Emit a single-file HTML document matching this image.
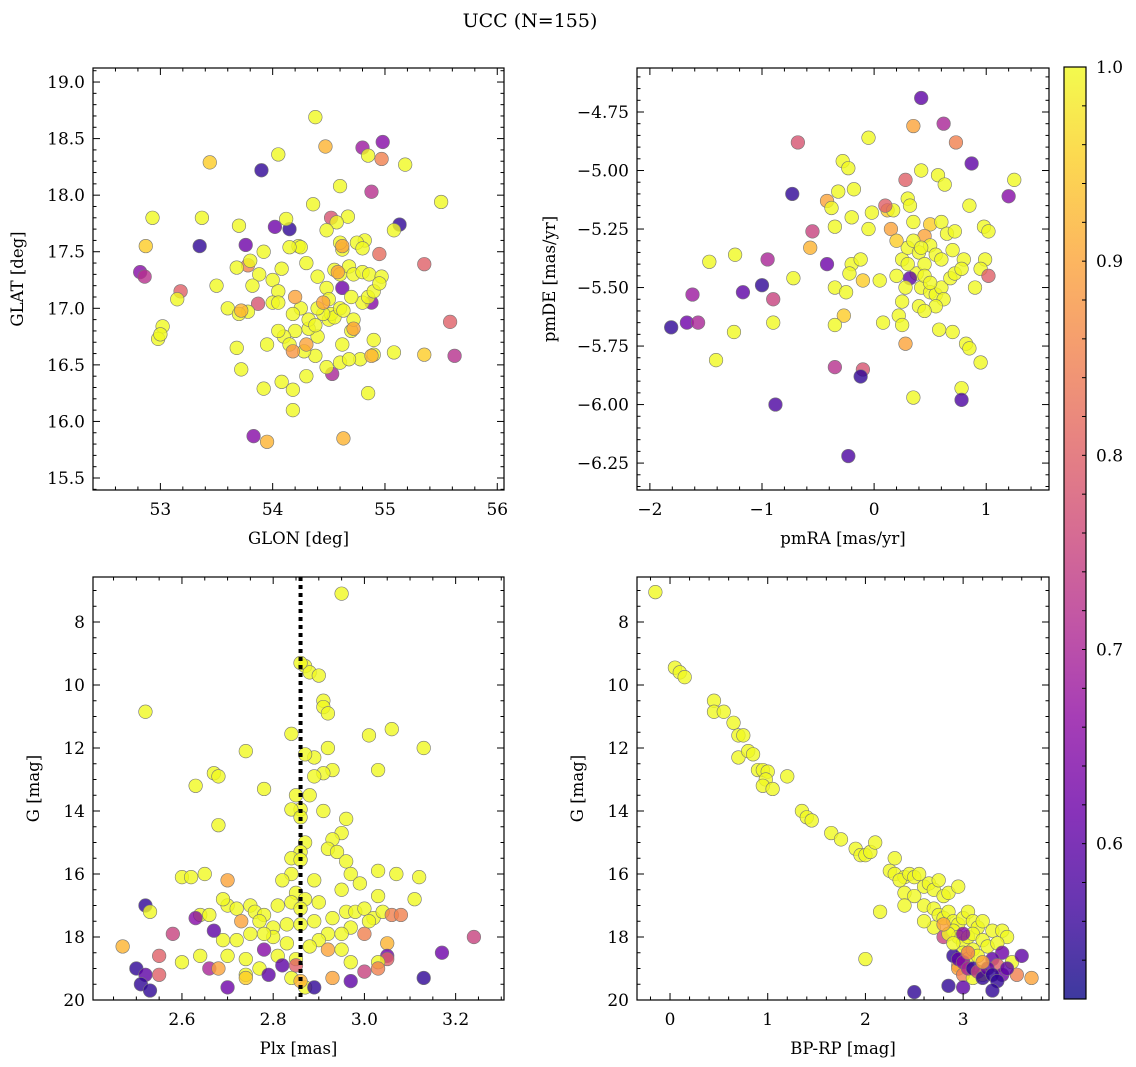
<!DOCTYPE html>
<html><head><meta charset="utf-8">
<style>
html,body{margin:0;padding:0;background:#fff;}
svg{display:block;font-family:"DejaVu Serif","Liberation Serif",serif;}
</style></head>
<body>
<svg id="fig" width="1136" height="1067" viewBox="0 0 1136 1067" xmlns="http://www.w3.org/2000/svg">
<text x="530" y="27" font-size="19" text-anchor="middle">UCC (N=155)</text>
</svg>
<script>
// ---- data (x, y, membership probability) ----
const p1Points=[[53.9,18.22,0.55],[54.98,18.47,0.65],[55.13,17.74,0.55],[54.15,17.70,0.55],[53.35,17.55,0.55],[53.76,17.56,0.62],[52.82,17.32,0.65],[52.86,17.28,0.72],[54.02,17.72,0.62],[53.83,15.87,0.65],[54.88,17.05,0.65],[54.62,17.18,0.62],[54.8,18.42,0.68],[54.88,18.03,0.72],[54.53,16.42,0.7],[55.62,16.58,0.72],[55.58,16.88,0.8],[55.35,17.39,0.8],[54.95,17.48,0.82],[54.52,17.8,0.78],[53.18,17.15,0.8],[53.87,17.04,0.78],[53.78,17.38,0.85],[54.97,18.32,0.85],[53.95,15.82,0.92],[54.63,15.85,0.92],[54.47,18.43,0.92],[53.44,18.29,0.95],[52.87,17.55,0.95],
[54.38,18.69,1],[54.05,18.36,1],[54.85,18.35,1],[55.18,18.27,1],[54.6,18.08,1],[55.5,17.94,1],[53.37,17.8,1],[52.93,17.8,1],[54.12,17.79,1],[54.36,17.92,1],[54.67,17.81,1],[54.57,17.76,1],[55.08,17.69,1],[53.7,17.73,1],[54.82,17.6,1],[54.48,17.69,1],[54.23,17.55,1],[54.25,17.54,1],[53.5,17.2,1],[53.6,17.0,1],[53.68,17.36,1],[53.8,17.42,1],[53.88,17.3,1],[53.92,17.5,1],[54.0,17.25,1],[54.05,17.15,1],[54.08,17.35,1],[54.15,17.54,1],[54.3,17.4,1],[54.4,17.28,1],[54.48,17.18,1],[54.55,17.34,1],[54.6,17.3,1],[54.62,17.52,1],[54.68,17.37,1],[54.72,17.3,1],[54.8,17.32,1],[54.86,17.3,1],[54.97,17.28,1],[54.75,17.58,1],[54.8,17.53,1],[54.6,17.58,1],[53.15,17.08,1],[53.02,16.84,1],[52.98,16.73,1],[53.0,16.77,1],[53.68,16.65,1],[53.72,16.46,1],[53.92,16.29,1],[54.08,16.35,1],[54.18,16.28,1],[54.18,16.1,1],[54.3,16.4,1],[54.85,16.25,1],[54.6,16.52,1],[54.48,16.48,1],[54.38,16.58,1],[55.08,16.61,1],[55.35,16.59,0.95],[54.9,16.59,1],[54.9,16.72,1],[54.78,16.55,1],[54.68,16.55,1],[54.7,16.8,1],[54.62,16.68,1],[54.5,16.9,1],[54.52,16.95,1],[54.55,16.92,1],[54.45,16.95,1],[54.4,16.75,1],[54.32,16.82,1],[54.32,16.9,1],[54.25,17.0,1],[54.18,16.95,1],[54.2,16.8,1],[54.1,16.75,1],[54.05,16.8,1],[53.95,16.68,1],[54.0,17.05,1],[54.05,17.05,1],[53.78,16.97,1],[53.7,16.95,1],[53.82,17.2,1],[54.4,17.0,1],[54.6,17.0,1],[54.72,16.9,1],[54.8,17.05,1],[54.85,17.1,1],[54.9,17.15,1],[54.95,17.22,1],[54.5,17.08,1],[54.38,16.85,1],[54.28,16.62,1],[54.15,16.68,1],[54.63,16.98,1],[54.7,17.1,1],
[54.45,17.05,0.9],[54.18,16.62,0.88],[54.3,16.68,0.9],[53.72,16.98,0.92],[54.72,16.82,0.9],[54.88,16.58,0.92],[54.58,17.32,0.9],[54.62,17.55,0.9],[54.2,17.1,0.9]];
const p2Points=[[0.42,-4.69,0.6],[0.62,-4.80,0.7],[0.35,-4.81,0.9],[-0.68,-4.88,0.78],[0.73,-4.88,0.85],[-0.05,-4.86,1],[-0.28,-4.96,1],[-0.23,-4.99,1],[0.42,-5.0,1],[0.87,-4.97,0.6],[0.28,-5.04,0.8],[0.57,-5.02,1],[0.63,-5.06,1],[1.25,-5.04,1],[-0.73,-5.10,0.55],[-0.32,-5.09,1],[-0.18,-5.08,1],[0.3,-5.12,1],[1.2,-5.11,0.65],[-0.42,-5.13,0.9],[-0.38,-5.16,1],[-0.2,-5.2,1],[0.12,-5.17,0.95],[0.17,-5.17,1],[-0.02,-5.18,1],[0.32,-5.15,1],[0.85,-5.15,1],[0.1,-5.15,0.8],[-0.55,-5.26,0.75],[-0.35,-5.24,1],[-0.05,-5.25,1],[0.35,-5.22,1],[0.5,-5.23,0.95],[0.6,-5.22,1],[0.65,-5.27,1],[0.45,-5.28,0.9],[0.72,-5.26,1],[0.98,-5.24,1],[1.02,-5.26,1],[-0.57,-5.33,0.92],[-0.95,-5.38,0.7],[-1.24,-5.36,1],[-1.47,-5.39,1],[-0.42,-5.40,0.62],[-0.2,-5.4,1],[-0.12,-5.38,1],[0.25,-5.38,1],[0.3,-5.33,1],[0.4,-5.35,1],[0.5,-5.32,1],[0.55,-5.36,1],[0.6,-5.38,1],[0.7,-5.34,1],[0.8,-5.38,1],[0.99,-5.38,1],[0.95,-5.42,1],[0.38,-5.44,1],[0.45,-5.4,1],[0.32,-5.46,0.6],[0.2,-5.45,1],[0.28,-5.5,1],[0.05,-5.47,1],[-0.1,-5.47,0.95],[-0.22,-5.44,1],[-0.72,-5.46,1],[-1.0,-5.49,0.55],[-1.17,-5.52,0.6],[-1.62,-5.53,0.68],[-0.35,-5.5,1],[-0.25,-5.52,1],[-0.9,-5.55,0.75],[0.42,-5.5,1],[0.5,-5.52,1],[0.55,-5.53,1],[0.6,-5.5,1],[0.62,-5.55,1],[0.68,-5.46,1],[0.72,-5.44,1],[0.78,-5.42,1],[0.9,-5.5,1],[1.02,-5.45,0.8],[0.25,-5.56,1],[0.4,-5.58,1],[0.55,-5.58,1],[0.22,-5.62,1],[0.45,-5.6,1],[-0.27,-5.62,0.95],[0.08,-5.65,1],[0.25,-5.66,1],[0.58,-5.68,1],[0.7,-5.69,1],[-0.35,-5.66,1],[-0.9,-5.65,1],[-1.25,-5.69,1],[-1.81,-5.67,0.55],[-1.67,-5.65,0.62],[-1.57,-5.65,0.7],[0.28,-5.74,0.9],[0.82,-5.74,1],[0.85,-5.76,1],[-1.41,-5.81,1],[-0.35,-5.84,0.72],[-0.1,-5.85,0.78],[-0.12,-5.88,0.55],[0.95,-5.82,1],[0.78,-5.93,1],[0.78,-5.98,0.58],[0.35,-5.97,1],[-0.88,-6.0,0.58],[-0.23,-6.22,0.58],[0.3,-5.4,1],[0.45,-5.45,1],[0.5,-5.48,1],[0.35,-5.3,1],[0.42,-5.33,1],[0.15,-5.25,0.9],[0.2,-5.3,0.95]];
const p3Points=[[2.95,7.1,1],[2.52,10.85,1],[2.87,9.4,1],[2.88,9.6,1],[2.9,9.7,1],[2.86,9.3,1],[2.91,10.5,1],[2.91,10.7,1],[2.92,10.9,1],[3.06,11.4,1],[2.84,11.55,1],[2.74,12.1,1],[3.01,11.6,1],[2.92,12.0,1],[3.13,12.0,1],[2.89,12.3,1],[2.87,12.2,1],[2.93,12.7,1],[2.91,12.8,1],[2.89,12.9,1],[3.03,12.7,1],[2.67,12.8,1],[2.68,12.9,1],[2.63,13.2,1],[2.78,13.3,1],[2.85,13.5,1],[2.88,13.5,1],[2.86,13.95,1],[2.84,13.95,1],[2.91,14.0,1],[2.86,14.2,1],[2.68,14.45,1],[2.96,14.25,1],[2.95,14.7,1],[2.93,14.9,1],[2.92,15.2,1],[2.94,15.3,1],[2.87,15.0,1],[2.86,15.3,1],[2.84,15.5,1],[2.86,15.55,1],[2.96,15.6,1],[2.97,16.0,1],[2.6,16.1,1],[2.62,16.1,1],[2.65,16.0,1],[2.84,16.0,1],[2.89,16.2,1],[2.82,16.2,1],[2.95,16.5,1],[3.03,15.9,1],[3.07,16.0,1],[3.12,16.1,1],[2.99,16.3,1],[3.03,16.7,1],[2.85,16.6,1],[2.87,16.8,1],[2.84,16.9,1],[2.86,17.1,1],[2.81,17.0,1],[2.52,17.0,0.55],[2.53,17.2,1],[2.64,17.3,1],[2.66,17.3,1],[2.7,17.0,1],[2.72,17.1,1],[2.75,17.0,1],[2.69,16.8,1],[2.7,16.2,0.9],[2.76,17.2,1],[2.78,17.3,1],[2.77,17.5,1],[2.73,17.5,0.9],[2.8,17.7,1],[2.83,17.6,1],[2.86,17.6,1],[2.89,17.5,1],[2.9,16.9,1],[2.93,17.4,1],[2.96,17.2,1],[2.98,17.2,1],[3.0,17.1,1],[3.02,17.4,1],[3.04,17.2,1],[3.06,17.3,0.85],[3.08,17.3,0.85],[3.11,16.8,1],[3.0,17.9,0.85],[3.01,17.5,1],[2.97,17.7,1],[2.95,17.9,1],[2.92,17.9,1],[2.9,18.1,1],[2.88,18.3,1],[2.83,18.2,1],[2.8,18.0,1],[2.78,17.9,1],[2.75,17.9,1],[2.72,18.1,1],[2.69,18.1,1],[2.67,17.8,0.6],[2.58,17.9,0.75],[2.55,18.6,0.8],[2.47,18.3,0.92],[2.64,18.6,1],[2.6,18.8,1],[2.7,18.6,1],[2.74,18.7,1],[2.78,18.4,0.65],[2.81,18.6,1],[2.85,18.7,1],[2.92,18.4,0.9],[2.95,18.4,1],[2.97,18.8,1],[3.05,18.2,0.92],[3.05,18.6,0.62],[3.05,18.7,0.8],[3.03,18.8,1],[3.24,18.0,0.75],[3.17,18.5,0.62],[2.63,17.4,0.65],[2.5,19.0,0.55],[2.52,19.2,0.6],[2.55,19.2,0.8],[2.51,19.5,0.55],[2.53,19.7,0.55],[2.66,19.0,0.7],[2.68,19.0,0.9],[2.7,19.6,0.62],[2.74,19.2,1],[2.74,19.3,0.95],[2.77,19.0,1],[2.79,19.2,0.6],[2.82,18.9,0.6],[2.84,19.3,1],[2.87,19.6,1],[2.89,19.6,0.55],[2.93,19.3,0.9],[2.97,19.4,0.6],[3.0,19.1,0.75],[3.03,19.0,0.85],[3.13,19.3,0.55],[2.85,18.9,0.8],[2.86,19.4,0.92]];
const p4Points=[[-0.15,7.05,1],[0.05,9.45,1],[0.1,9.6,1],[0.15,9.75,1],[0.45,10.5,1],[0.45,10.85,1],[0.55,10.85,1],[0.65,11.2,1],[0.7,11.6,1],[0.75,11.6,1],[0.7,12.3,1],[0.8,12.1,1],[0.85,12.2,1],[0.9,12.7,1],[0.95,12.7,1],[1.0,12.75,1],[0.98,13.0,1],[0.95,13.2,1],[1.05,13.3,1],[1.2,12.9,1],[1.35,14.0,1],[1.4,14.2,1],[1.45,14.3,1],[1.65,14.7,1],[1.75,14.9,1],[1.9,15.2,1],[1.95,15.4,1],[2.0,15.4,1],[2.05,15.3,1],[2.1,15.0,1],[2.3,15.5,1],[2.25,15.9,1],[2.3,16.0,1],[2.4,16.1,1],[2.35,16.2,1],[2.45,16.0,1],[2.5,16.1,1],[2.55,16.0,1],[2.6,16.4,1],[2.65,16.3,1],[2.7,16.5,1],[2.75,16.2,1],[2.8,16.7,1],[2.85,16.6,1],[2.95,16.4,1],[2.4,16.6,1],[2.5,16.7,1],[2.15,17.2,1],[2.0,18.7,1],[2.4,17.0,1],[2.6,17.0,1],[2.7,17.1,1],[2.75,17.3,1],[2.8,17.4,1],[2.85,17.2,1],[2.9,17.5,1],[2.95,17.6,1],[3.0,17.4,1],[3.05,17.2,1],[3.1,17.5,1],[3.15,17.7,1],[3.2,17.5,1],[3.3,17.8,1],[3.4,17.8,1],[3.45,18.0,1],[2.8,18.0,0.75],[2.9,17.8,1],[2.95,18.0,1],[3.0,18.2,1],[3.05,18.0,1],[3.1,17.9,1],[3.2,18.1,1],[3.25,18.3,1],[3.35,18.2,1],[3.4,18.5,0.62],[3.5,18.8,1],[3.0,18.5,1],[3.05,18.7,1],[2.95,18.9,0.9],[2.95,19.0,0.9],[3.0,19.2,0.85],[3.1,19.3,1],[3.2,19.2,1],[3.3,18.7,0.6],[3.35,18.9,0.8],[3.4,19.2,0.62],[3.55,19.2,0.85],[3.7,19.3,0.9],[2.9,18.6,0.55],[2.95,18.7,0.6],[3.0,18.8,0.65],[3.05,19.0,0.7],[3.1,19.0,0.55],[3.15,19.1,0.75],[3.2,19.3,0.55],[3.25,19.0,0.6],[3.3,19.2,0.55],[3.35,19.4,0.55],[2.5,19.75,0.55],[2.85,19.55,0.55],[3.0,19.6,0.6],[3.3,19.7,0.55],[3.1,18.4,1],[3.15,18.6,1],[2.85,17.9,1],[2.9,18.2,1],[3.05,18.5,0.85],[3.2,18.8,0.9],[3.45,19.0,0.6],[3.6,18.6,0.6],[2.7,17.7,1],[2.6,17.5,1],[2.8,17.6,0.9],[3.0,17.9,0.65]];
const plxMean=[2.86];
const p1XTicks=[53,54,55,56], p1YTicks=[15.5,16.0,16.5,17.0,17.5,18.0,18.5,19.0];
const p2XTicks=[-2,-1,0,1], p2YTicks=[-6.25,-6.00,-5.75,-5.50,-5.25,-5.00,-4.75];
const p3XTicks=[2.6,2.8,3.0,3.2], magTicks=[8,10,12,14,16,18,20];
const p4XTicks=[0,1,2,3];
const cbTicks=[0.6,0.7,0.8,0.9,1.0];

const NS="http://www.w3.org/2000/svg";
const svg=document.getElementById('fig');
function el(tag,attrs,parent){const e=document.createElementNS(NS,tag);for(const k in attrs)e.setAttribute(k,attrs[k]);(parent||svg).appendChild(e);return e;}
const VMIN=0.52,VMAX=1.0;
const stops=["#0d0887","#41049d","#6a00a8","#8f0da4","#b12a90","#cc4778","#e16462","#f2844b","#fca636","#fcce25","#f0f921"];
function hex(h){return [1,3,5].map(i=>parseInt(h.substr(i,2),16));}
function plasma(t){t=Math.max(0,Math.min(1,t));const f=t*10,i=Math.min(9,Math.floor(f)),r=f-i;const a=hex(stops[i]),b=hex(stops[i+1]);return 'rgb('+a.map((v,k)=>Math.round(v+(b[k]-v)*r)).join(',')+')';}
function fmt(v,d){return (v<0?'\u2212':'')+Math.abs(v).toFixed(d);}

function panel(o){
  const g=el('g',{});
  
  
  const sx=v=>o.x0+(v-o.xmin)/(o.xmax-o.xmin)*(o.x1-o.x0);
  const sy=v=>o.inv? o.y0+(v-o.ymin)/(o.ymax-o.ymin)*(o.y1-o.y0) : o.y1-(v-o.ymin)/(o.ymax-o.ymin)*(o.y1-o.y0);
  const clipId='c'+o.name;
  const cp=el('clipPath',{id:clipId},g);el('rect',{x:o.x0,y:o.y0,width:o.x1-o.x0,height:o.y1-o.y0},cp);
  const pts=el('g',{'clip-path':'url(#'+clipId+')'},g);
  o.points.forEach(p=>{
    const c=el('circle',{cx:sx(p[0]),cy:sy(p[1]),r:6.8,fill:plasma((p[2]-VMIN)/(VMAX-VMIN)),'fill-opacity':0.8,stroke:'#777','stroke-width':0.6},pts);
    
    
  });
  if(o.vline){o.vline.forEach(v=>{const l=el('line',{x1:sx(v),x2:sx(v),y1:o.y0,y2:o.y1,stroke:'#000','stroke-width':4,'stroke-dasharray':'4 4'},g);
    });}
  const fr=el('rect',{x:o.x0,y:o.y0,width:o.x1-o.x0,height:o.y1-o.y0,fill:'none',stroke:'#000','stroke-width':1.2},g);
  
  const xs=o.xt, ys=o.yt;
  const xst=xs[1]-xs[0], yst=ys[1]-ys[0];
  for(let i=-o.xm;i<=(xs.length)*o.xm;i++){
    const v=xs[0]+i*xst/o.xm;const X=sx(v); if(X<o.x0-0.1||X>o.x1+0.1)continue;
    const L=(i%o.xm===0)?7:3.5;
    el('line',{x1:X,x2:X,y1:o.y1,y2:o.y1-L,stroke:'#000','stroke-width':1},g);
    el('line',{x1:X,x2:X,y1:o.y0,y2:o.y0+L,stroke:'#000','stroke-width':1},g);
  }
  for(let i=-o.ym;i<=(ys.length)*o.ym;i++){
    const v=ys[0]+i*yst/o.ym;const Y=sy(v); if(Y<o.y0-0.1||Y>o.y1+0.1)continue;
    const L=(i%o.ym===0)?7:3.5;
    el('line',{x1:o.x0,x2:o.x0+L,y1:Y,y2:Y,stroke:'#000','stroke-width':1},g);
    el('line',{x1:o.x1,x2:o.x1-L,y1:Y,y2:Y,stroke:'#000','stroke-width':1},g);
  }
  xs.forEach(v=>{const t=el('text',{x:sx(v),y:o.y1+25,'font-size':17,'text-anchor':'middle'},g);t.textContent=fmt(v,o.xd);
    });
  ys.forEach(v=>{const t=el('text',{x:o.x0-8,y:sy(v)+6,'font-size':17,'text-anchor':'end'},g);t.textContent=fmt(v,o.yd);
    });
  const xl=el('text',{x:(o.x0+o.x1)/2,y:o.y1+54,'font-size':16.5,'text-anchor':'middle'},g);xl.textContent=o.xlabel;
  
  const yx=o.x0-o.ylo, yy=(o.y0+o.y1)/2;
  const yl=el('text',{x:yx,y:yy,'font-size':16.5,'text-anchor':'middle',transform:'rotate(-90 '+yx+' '+yy+')'},g);yl.textContent=o.ylabel;
  
}
panel({name:'glon-glat-panel',points:p1Points,x0:93,x1:504,y0:68,y1:490,xmin:52.40,xmax:56.06,ymin:15.394,ymax:19.124,xt:p1XTicks,yt:p1YTicks,xm:5,ym:5,xd:0,yd:1,xlabel:'GLON [deg]',ylabel:'GLAT [deg]',ylo:70});
panel({name:'proper-motion-panel',points:p2Points,x0:637,x1:1049,y0:68,y1:490,xmin:-2.115,xmax:1.56,ymin:-6.365,ymax:-4.562,xt:p2XTicks,yt:p2YTicks,xm:5,ym:5,xd:0,yd:2,xlabel:'pmRA [mas/yr]',ylabel:'pmDE [mas/yr]',ylo:82});
panel({name:'parallax-mag-panel',points:p3Points,vline:plxMean,x0:93,x1:504,y0:577,y1:1000,xmin:2.405,xmax:3.306,ymin:6.571,ymax:20,inv:true,xt:p3XTicks,yt:magTicks,xm:4,ym:4,xd:1,yd:0,xlabel:'Plx [mas]',ylabel:'G [mag]',ylo:54});
panel({name:'cmd-panel',points:p4Points,x0:637,x1:1049,y0:577,y1:1000,xmin:-0.338,xmax:3.879,ymin:6.571,ymax:20,inv:true,xt:p4XTicks,yt:magTicks,xm:5,ym:4,xd:0,yd:0,xlabel:'BP-RP [mag]',ylabel:'G [mag]',ylo:54});

// colorbar
const cb=el('g',{});


const cx0=1064,cx1=1086,cy0=67,cy1=999;
const cby=v=>cy1-(v-VMIN)/(VMAX-VMIN)*(cy1-cy0);
const grad=el('linearGradient',{id:'pg',x1:0,y1:1,x2:0,y2:0},el('defs',{},cb));
stops.forEach((s,i)=>el('stop',{offset:i/10,'stop-color':s,'stop-opacity':0.8},grad));
el('rect',{x:cx0,y:cy0,width:cx1-cx0,height:cy1-cy0,fill:'url(#pg)',stroke:'#000','stroke-width':1.2},cb);
for(let i=0;i<=24;i++){const v=0.52+i*0.02;const Y=cby(v);
  el('line',{x1:cx1,x2:cx1-4,y1:Y,y2:Y,stroke:'#000','stroke-width':1},cb);}
cbTicks.forEach(v=>{const t=el('text',{x:cx1+10,y:cby(v)+6,'font-size':17},cb);t.textContent=v.toFixed(1);
  });
</script>
</body></html>
